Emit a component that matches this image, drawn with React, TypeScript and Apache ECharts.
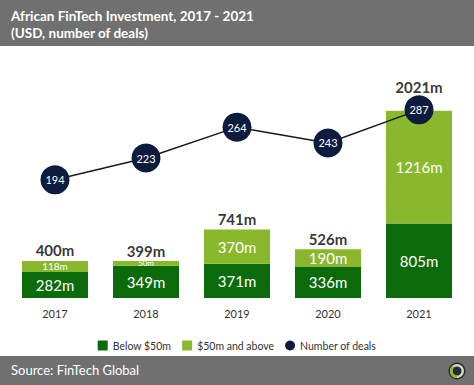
import React, { useEffect, useRef } from "react";
import * as echarts from "echarts";

const categories = ["2017", "2018", "2019", "2020", "2021"];
const below50 = [282, 349, 371, 336, 805];
const above50 = [118, 50, 370, 190, 1216];
const totals = [400, 399, 741, 526, 2021];
const deals = [194, 223, 264, 243, 287];

const FONT = "Lato, 'Open Sans', sans-serif";

export default function App() {
  const ref = useRef<HTMLDivElement>(null);
  useEffect(() => {
    if (!ref.current) return;
    const chart = echarts.init(ref.current, undefined, { renderer: "svg" });
    const smallSizes = [10, 8, 15, 15, 15];
    chart.setOption({
      animation: false,
      backgroundColor: "#ffffff",
      textStyle: { fontFamily: FONT },
      grid: { left: 9.5, right: 9.5, top: 85, bottom: 87 },
      legend: {
        top: 335,
        left: "center",
        itemWidth: 10,
        itemHeight: 10,
        itemGap: 11,
        textStyle: { fontSize: 10.5, color: "#333", fontFamily: FONT },
        data: [
          { name: "Below $50m", icon: "rect" },
          { name: "$50m and above", icon: "rect" },
          { name: "Number of deals", icon: "circle" },
        ],
      },
      xAxis: {
        type: "category",
        data: categories,
        axisLine: { show: false },
        axisTick: { show: false },
        axisLabel: { color: "#333", fontSize: 11, margin: 10, fontFamily: FONT },
      },
      yAxis: [
        { type: "value", min: 0, max: 2300, show: false, splitLine: { show: false } },
        { type: "value", min: 37, max: 320, show: false, splitLine: { show: false } },
      ],
      series: [
        {
          name: "Below $50m",
          type: "bar",
          stack: "inv",
          barWidth: 66,
          itemStyle: { color: "#0b6b0b" },
          label: {
            show: true,
            position: "inside",
            color: "#ffffff",
            fontSize: 15,
            fontFamily: FONT,
            formatter: "{c}m",
          },
          data: below50,
        },
        {
          name: "$50m and above",
          type: "bar",
          stack: "inv",
          barWidth: 66,
          itemStyle: { color: "#8ab82c" },
          label: {
            show: true,
            position: "inside",
            color: "#ffffff",
            fontSize: 15,
            fontFamily: FONT,
            formatter: "{c}m",
          },
          data: above50.map((v, i) => ({ value: v, label: { fontSize: smallSizes[i] } })),
        },
        {
          name: "Total",
          type: "scatter",
          symbolSize: 0,
          silent: true,
          label: {
            show: true,
            position: "top",
            distance: 3,
            color: "#000000",
            fontSize: 15,
            fontWeight: "bold",
            fontFamily: FONT,
            formatter: "{c}m",
          },
          data: totals.map((v, i) =>
            i === 4 ? { value: v, label: { distance: 16 } } : { value: v }
          ),
          z: 5,
        },
        {
          name: "Number of deals",
          type: "line",
          yAxisIndex: 1,
          symbol: "circle",
          symbolSize: 29,
          itemStyle: { color: "#0d1b3e" },
          lineStyle: { color: "#1a1a1a", width: 1.5 },
          label: {
            show: true,
            position: "inside",
            color: "#ffffff",
            fontSize: 11,
            fontFamily: FONT,
          },
          data: deals,
          z: 10,
        },
      ],
      graphic: [
        { type: "rect", shape: { x: 0, y: 0, width: 474, height: 46 }, style: { fill: "#707070" }, z: 1 },
        {
          type: "text",
          x: 11,
          y: 9,
          style: {
            text: "African FinTech Investment, 2017 - 2021",
            fill: "#ffffff",
            font: "bold 13.5px " + FONT,
          },
          z: 2,
        },
        {
          type: "text",
          x: 11,
          y: 26,
          style: { text: "(USD, number of deals)", fill: "#ffffff", font: "bold 13.5px " + FONT },
          z: 2,
        },
        { type: "rect", shape: { x: 0, y: 356, width: 474, height: 29 }, style: { fill: "#707070" }, z: 1 },
        {
          type: "text",
          x: 11,
          y: 363,
          style: { text: "Source: FinTech Global", fill: "#ffffff", font: "13px " + FONT },
          z: 2,
        },
        { type: "circle", shape: { cx: 457, cy: 371, r: 8.5 }, style: { fill: "#2a2a2a" }, z: 2 },
        { type: "ring", shape: { cx: 457, cy: 371, r: 7, r0: 4.5 }, style: { fill: "#d4d4d4" }, z: 3 },
        {
          type: "arc",
          shape: { cx: 457, cy: 371, r: 5.8, startAngle: Math.PI * 0.5, endAngle: Math.PI * 1.3 },
          style: { stroke: "#8ab82c", lineWidth: 2.5, fill: "none" },
          z: 4,
        },
      ],
    });
    return () => chart.dispose();
  }, []);
  return (
    <div
      ref={ref}
      style={{ position: "fixed", left: 0, top: 0, width: 474, height: 385 }}
    />
  );
}
